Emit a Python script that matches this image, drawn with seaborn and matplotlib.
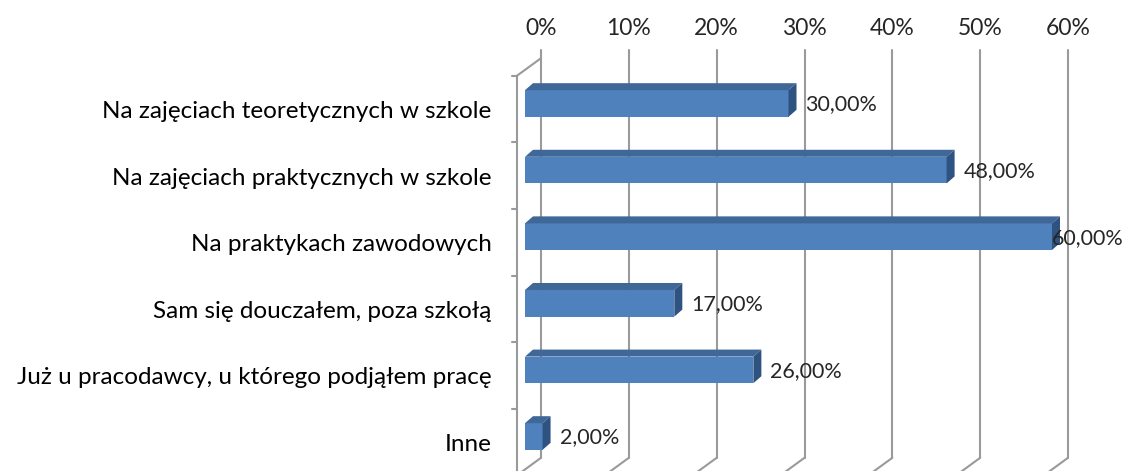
import numpy as np
import pandas as pd
import seaborn as sns
import matplotlib.pyplot as plt
from matplotlib.patches import Polygon
from matplotlib.transforms import IdentityTransform

categories = [
    "Na zajęciach teoretycznych w szkole",
    "Na zajęciach praktycznych w szkole",
    "Na praktykach zawodowych",
    "Sam się douczałem, poza szkołą",
    "Już u pracodawcy, u którego podjąłem pracę",
    "Inne",
]
values = [30, 48, 60, 17, 26, 2]
value_labels = ["30,00%", "48,00%", "60,00%", "17,00%", "26,00%", "2,00%"]
x_ticks = [0, 10, 20, 30, 40, 50, 60]
x_tick_labels = ["0%", "10%", "20%", "30%", "40%", "50%", "60%"]

sns.set_style("white")
plt.rcParams['font.family'] = ['Lato', 'DejaVu Sans']

W, H = 1124, 471
fig = plt.figure(figsize=(W / 100, H / 100), dpi=100)
ax = fig.add_axes([525 / W, (H - 469.8) / H, 527 / W, 399.6 / H])

df = pd.DataFrame({'cat': categories, 'val': values})
sns.barplot(data=df, x='val', y='cat', orient='h', color='#4F81BD',
            saturation=1, width=0.4, edgecolor='none', ax=ax, zorder=3)
ax.set_xlim(0, 60)
ax.set_ylim(5.5, -0.5)
for s in ax.spines.values():
    s.set_visible(False)
ax.set_xlabel('')
ax.set_ylabel('')
ax.set_xticks([])
ax.set_yticks(np.arange(len(categories)) + 0.09, labels=categories)
ax.tick_params(axis='y', length=0, pad=24, labelsize=17.5, labelcolor='black')

# depth offsets in pixels (perspective of the 3D chart)
back = np.array([16, 12])
wall = np.array([-8, -5.5])
bar_depth = np.array([8, 7])
grid_kw = dict(color='#9A9A9A', lw=1.5, transform=IdentityTransform(), clip_on=False, zorder=1)


def to_px(x, y):
    return ax.transData.transform((x, y))


for v, lab in zip(x_ticks, x_tick_labels):
    top = to_px(v, -0.5) + back
    bot = to_px(v, 5.5) + back
    ax.plot([top[0], bot[0]], [top[1] + 8, bot[1]], **grid_kw)
    fr = to_px(v, 5.5) + wall
    ax.plot([bot[0], fr[0]], [bot[1], fr[1]], **grid_kw)
    ax.text(top[0], top[1] + 30, lab, ha='center', va='center', fontsize=16.5,
            transform=IdentityTransform())

# left wall
a = to_px(0, -0.5) + back
b = to_px(0, -0.5) + wall
c = to_px(0, 5.5) + wall
ax.plot([a[0], b[0]], [a[1], b[1]], **grid_kw)
ax.plot([b[0], c[0]], [b[1], c[1]], **grid_kw)
for i in range(len(categories) + 1):
    p = to_px(0, i - 0.5) + wall
    ax.plot([p[0] - 5, p[0]], [p[1], p[1]], **grid_kw)

# 3D faces of the bars
for patch in ax.patches:
    x0, w = patch.get_x(), patch.get_width()
    y0, h = patch.get_y(), patch.get_height()
    tl = to_px(x0, y0)
    tr = to_px(x0 + w, y0)
    br = to_px(x0 + w, y0 + h)
    if tl[1] < br[1]:
        tl = to_px(x0, y0 + h)
        tr = to_px(x0 + w, y0 + h)
        br = to_px(x0 + w, y0)
    ax.add_patch(Polygon([tl, tr, tr + bar_depth, tl + bar_depth], closed=True,
                         facecolor='#3F6797', edgecolor='none',
                         transform=IdentityTransform(), clip_on=False, zorder=3))
    ax.add_patch(Polygon([tr, br, br + bar_depth, tr + bar_depth], closed=True,
                         facecolor='#2F5381', edgecolor='none',
                         transform=IdentityTransform(), clip_on=False, zorder=3))

# data labels
for i, (v, lab) in enumerate(zip(values, value_labels)):
    p = to_px(v, i)
    dx = 0 if v == max(values) else 17
    ax.text(p[0] + dx, p[1] - 1, lab, ha='left', va='center', fontsize=15.5,
            transform=IdentityTransform(), zorder=5)

fig.savefig('out.png', dpi=100)
